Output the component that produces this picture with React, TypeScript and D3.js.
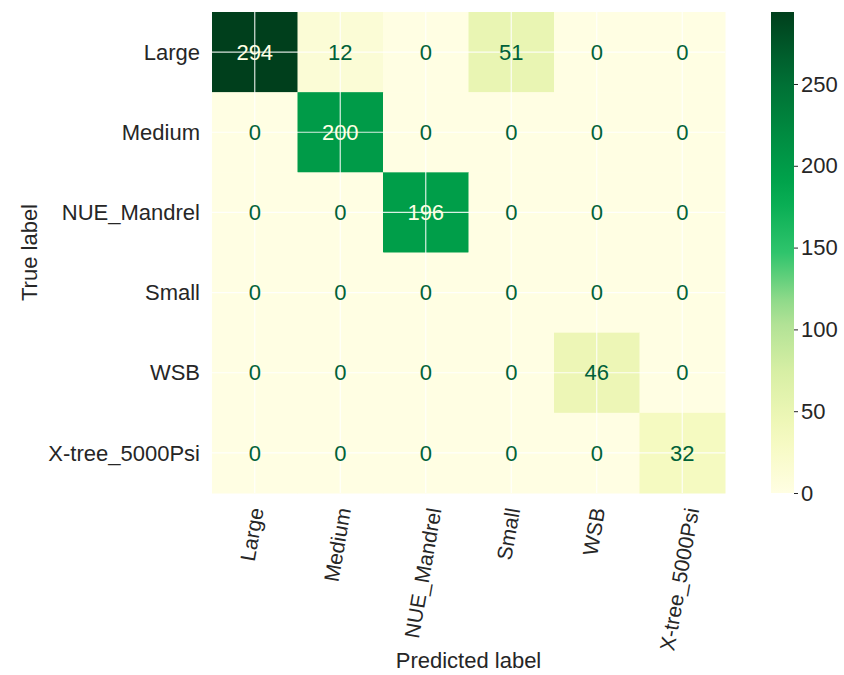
import React, { useEffect, useRef } from 'react';
import * as d3 from 'd3';

const labels = ['Large', 'Medium', 'NUE_Mandrel', 'Small', 'WSB', 'X-tree_5000Psi'];

// rows = true label, columns = predicted label
const matrix = [
  [294, 12, 0, 51, 0, 0],
  [0, 200, 0, 0, 0, 0],
  [0, 0, 196, 0, 0, 0],
  [0, 0, 0, 0, 0, 0],
  [0, 0, 0, 0, 46, 0],
  [0, 0, 0, 0, 0, 32],
];

const colorbarTicks = [0, 50, 100, 150, 200, 250];

// YlGn-like ramp, as it looks in the picture
const rampColors = ['#fffee3', '#f4f9bc', '#d8efa5', '#a8df92', '#2fc46c', '#00a84e', '#008a40', '#006a32', '#003f1c'];

const App = () => {
  const svgRef = useRef<SVGSVGElement>(null);

  useEffect(() => {
    const width = 844;
    const height = 675;
    const left = 212, right = 725, top = 12, bottom = 493;
    const font = 'Arial, "Liberation Sans", sans-serif';
    const textCol = '#262626';
    const fs = 22;

    const svg = d3.select(svgRef.current)
      .attr('width', width)
      .attr('height', height)
      .style('font-family', font);
    svg.selectAll('*').remove();

    const flat = matrix.flat();
    const vmin = d3.min(flat) as number;
    const vmax = d3.max(flat) as number;

    const color = d3.scaleLinear<string>()
      .domain(rampColors.map((_, i) => vmin + (vmax - vmin) * i / (rampColors.length - 1)))
      .range(rampColors)
      .interpolate(d3.interpolateRgb);

    const x = d3.scaleBand().domain(labels).range([left, right]);
    const y = d3.scaleBand().domain(labels).range([top, bottom]);

    const cells = svg.append('g');
    matrix.forEach((row, i) => {
      row.forEach((v, j) => {
        cells.append('rect')
          .attr('x', x(labels[j]) as number)
          .attr('y', y(labels[i]) as number)
          .attr('width', x.bandwidth() + 0.5)
          .attr('height', y.bandwidth() + 0.5)
          .attr('fill', color(v));
      });
    });

    // white grid at the cell centres (seaborn style)
    const grid = svg.append('g').attr('stroke', '#fff').attr('stroke-width', 1.2).attr('stroke-opacity', 0.85);
    labels.forEach(l => {
      const cx = (x(l) as number) + x.bandwidth() / 2;
      const cy = (y(l) as number) + y.bandwidth() / 2;
      grid.append('line').attr('x1', cx).attr('x2', cx).attr('y1', top).attr('y2', bottom);
      grid.append('line').attr('x1', left).attr('x2', right).attr('y1', cy).attr('y2', cy);
    });

    // cell values
    const thresh = (vmax + vmin) / 2;
    const vals = svg.append('g');
    matrix.forEach((row, i) => {
      row.forEach((v, j) => {
        vals.append('text')
          .attr('x', (x(labels[j]) as number) + x.bandwidth() / 2)
          .attr('y', (y(labels[i]) as number) + y.bandwidth() / 2)
          .attr('dy', '0.35em')
          .attr('text-anchor', 'middle')
          .attr('font-size', fs)
          .attr('fill', v > thresh ? '#ffffe5' : '#00613a')
          .text(v);
      });
    });

    // y tick labels
    labels.forEach(l => {
      svg.append('text')
        .attr('x', 200)
        .attr('y', (y(l) as number) + y.bandwidth() / 2)
        .attr('dy', '0.35em')
        .attr('text-anchor', 'end')
        .attr('font-size', fs)
        .attr('fill', textCol)
        .text(l);
    });

    // x tick labels, rotated 80 degrees
    const ang = 80 * Math.PI / 180;
    labels.forEach(l => {
      const cx = (x(l) as number) + x.bandwidth() / 2;
      const t = svg.append('text')
        .attr('text-anchor', 'end')
        .attr('dominant-baseline', 'central')
        .attr('font-size', 21)
        .attr('fill', textCol)
        .text(l);
      const len = (t.node() as SVGTextElement).getComputedTextLength();
      const ex = cx - 3 + 0.5 * len * Math.cos(ang);
      const ey = 508;
      t.attr('transform', `translate(${ex},${ey}) rotate(-80)`);
    });

    // axis titles
    svg.append('text')
      .attr('x', (left + right) / 2)
      .attr('y', 668)
      .attr('text-anchor', 'middle')
      .attr('font-size', fs)
      .attr('fill', textCol)
      .text('Predicted label');

    svg.append('text')
      .attr('transform', `translate(37,${(top + bottom) / 2}) rotate(-90)`)
      .attr('text-anchor', 'middle')
      .attr('font-size', fs)
      .attr('fill', textCol)
      .text('True label');

    // colorbar
    const cbX = 771, cbW = 23;
    const cy = d3.scaleLinear().domain([vmin, vmax]).range([bottom, top]);
    const defs = svg.append('defs');
    const grad = defs.append('linearGradient')
      .attr('id', 'cbGrad')
      .attr('x1', 0).attr('y1', 1).attr('x2', 0).attr('y2', 0);
    d3.range(0, 1.0001, 0.05).forEach(f => {
      grad.append('stop')
        .attr('offset', `${f * 100}%`)
        .attr('stop-color', color(vmin + f * (vmax - vmin)));
    });
    svg.append('rect')
      .attr('x', cbX)
      .attr('y', top)
      .attr('width', cbW)
      .attr('height', bottom - top)
      .attr('fill', 'url(#cbGrad)');

    const axis = d3.axisRight(cy).tickValues(colorbarTicks).tickSize(4).tickPadding(3);
    const ag = svg.append('g')
      .attr('transform', `translate(${cbX + cbW},0)`)
      .call(axis);
    ag.select('.domain').remove();
    ag.selectAll('line').attr('stroke', textCol);
    ag.selectAll('text')
      .attr('font-size', fs)
      .attr('font-family', font)
      .attr('fill', textCol);
  }, []);

  return (
    <div style={{ position: 'absolute', left: 0, top: 0 }}>
      <svg ref={svgRef}></svg>
    </div>
  );
};

export default App;
